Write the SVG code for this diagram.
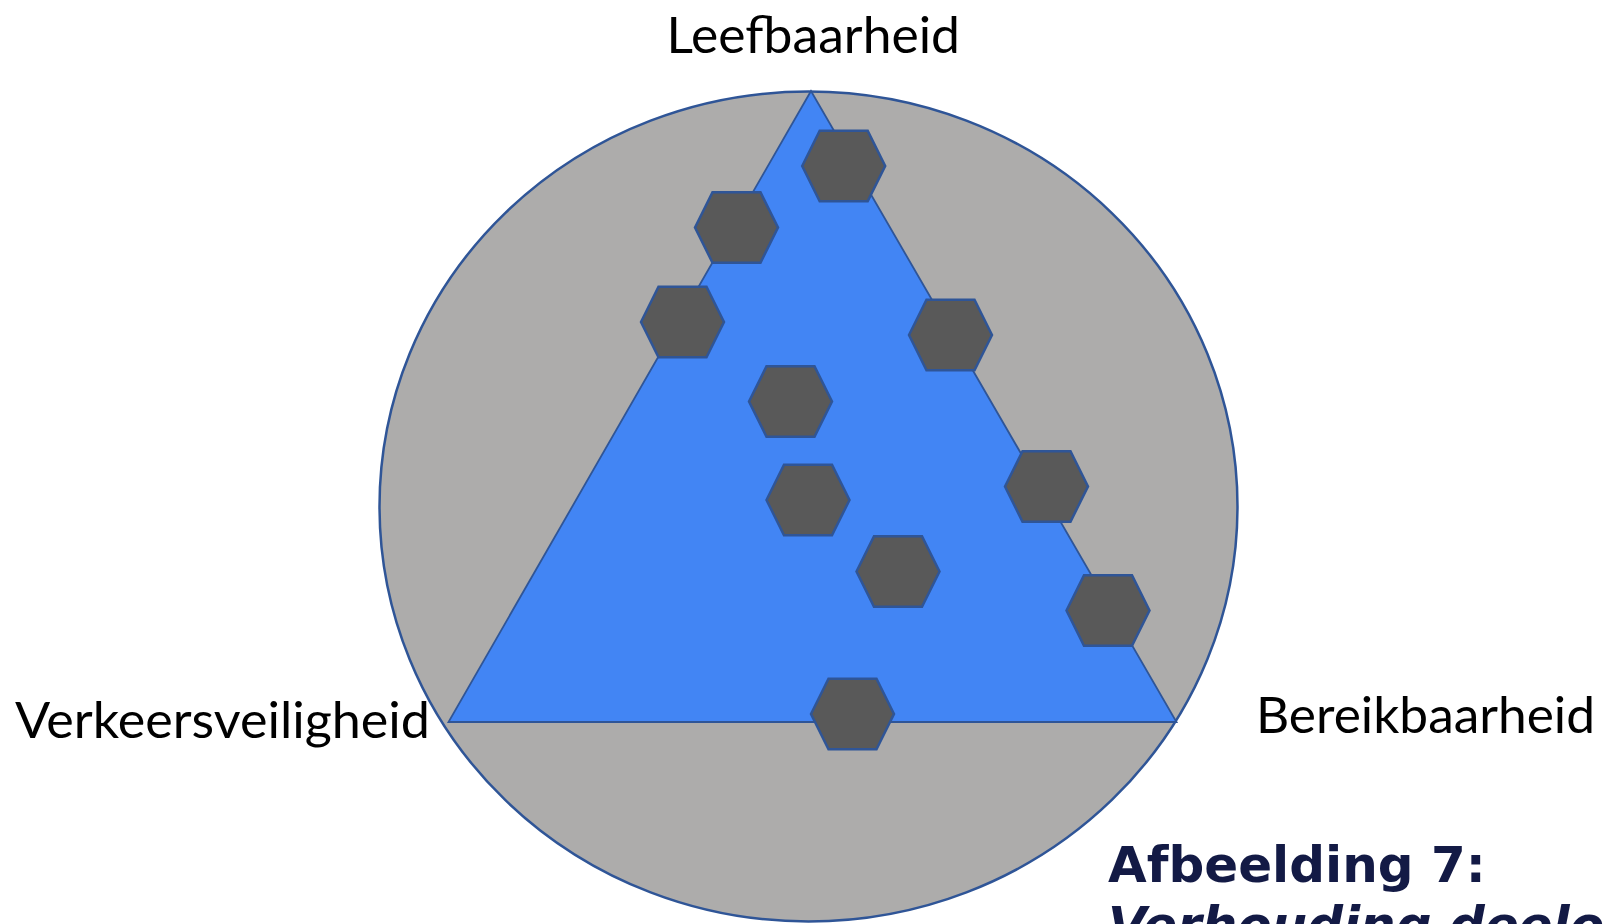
<svg xmlns="http://www.w3.org/2000/svg" xmlns:xlink="http://www.w3.org/1999/xlink" width="1606" height="924" viewBox="0 0 1606 924">
  <style>
    .lbl { font-family: Lato, "Open Sans", "Liberation Sans", sans-serif; font-size: 51px; fill: #000000; }
    .cap { font-family: "DejaVu Sans", Verdana, sans-serif; font-weight: bold; font-size: 50px; fill: #131A45; }
    .hex { fill: #595959; stroke: #2F5597; stroke-width: 2.5; stroke-linejoin: miter; }
  </style>
  <defs>
    <polygon id="hexShape" points="-41.5,0 -24,-35.2 24,-35.2 41.5,0 24,35.2 -24,35.2"/>
  </defs>
  <rect width="1606" height="924" fill="#FFFFFF"/>
  <g id="circle">
    <ellipse cx="808.5" cy="506.5" rx="429" ry="415" fill="#ADACAB" stroke="#2F5597" stroke-width="2.5"/>
  </g>
  <g id="triangle">
    <polygon points="811,91 448.5,722 1176.5,722" fill="#4285F4" stroke="#2F5597" stroke-width="1.8" stroke-linejoin="miter"/>
  </g>
  <g id="connectors"></g>
  <g id="hex1"><use xlink:href="#hexShape" href="#hexShape" class="hex" transform="translate(843.7,166)"/></g>
  <g id="hex2"><use xlink:href="#hexShape" href="#hexShape" class="hex" transform="translate(736.5,227.5)"/></g>
  <g id="hex3"><use xlink:href="#hexShape" href="#hexShape" class="hex" transform="translate(682.5,322)"/></g>
  <g id="hex4"><use xlink:href="#hexShape" href="#hexShape" class="hex" transform="translate(950.5,335)"/></g>
  <g id="hex5"><use xlink:href="#hexShape" href="#hexShape" class="hex" transform="translate(790.5,401.5)"/></g>
  <g id="hex6"><use xlink:href="#hexShape" href="#hexShape" class="hex" transform="translate(808,500)"/></g>
  <g id="hex7"><use xlink:href="#hexShape" href="#hexShape" class="hex" transform="translate(1046.5,486.5)"/></g>
  <g id="hex8"><use xlink:href="#hexShape" href="#hexShape" class="hex" transform="translate(898,571.5)"/></g>
  <g id="hex9"><use xlink:href="#hexShape" href="#hexShape" class="hex" transform="translate(1108,610.5)"/></g>
  <g id="hex10"><use xlink:href="#hexShape" href="#hexShape" class="hex" transform="translate(852.5,714)"/></g>
  <g id="label-leefbaarheid">
    <text class="lbl" x="666.5" y="53.3" textLength="293.5" lengthAdjust="spacingAndGlyphs">Leefbaarheid</text>
  </g>
  <g id="label-verkeersveiligheid">
    <text class="lbl" x="15" y="738.3" textLength="415" lengthAdjust="spacingAndGlyphs">Verkeersveiligheid</text>
  </g>
  <g id="label-bereikbaarheid">
    <text class="lbl" x="1256" y="733.3" textLength="339" lengthAdjust="spacingAndGlyphs">Bereikbaarheid</text>
  </g>
  <g id="caption">
    <text class="cap" x="1108" y="881.7">Afbeelding 7:</text>
    <text class="cap" x="1108" y="942" font-style="italic">Verhouding deelo</text>
  </g>
</svg>
